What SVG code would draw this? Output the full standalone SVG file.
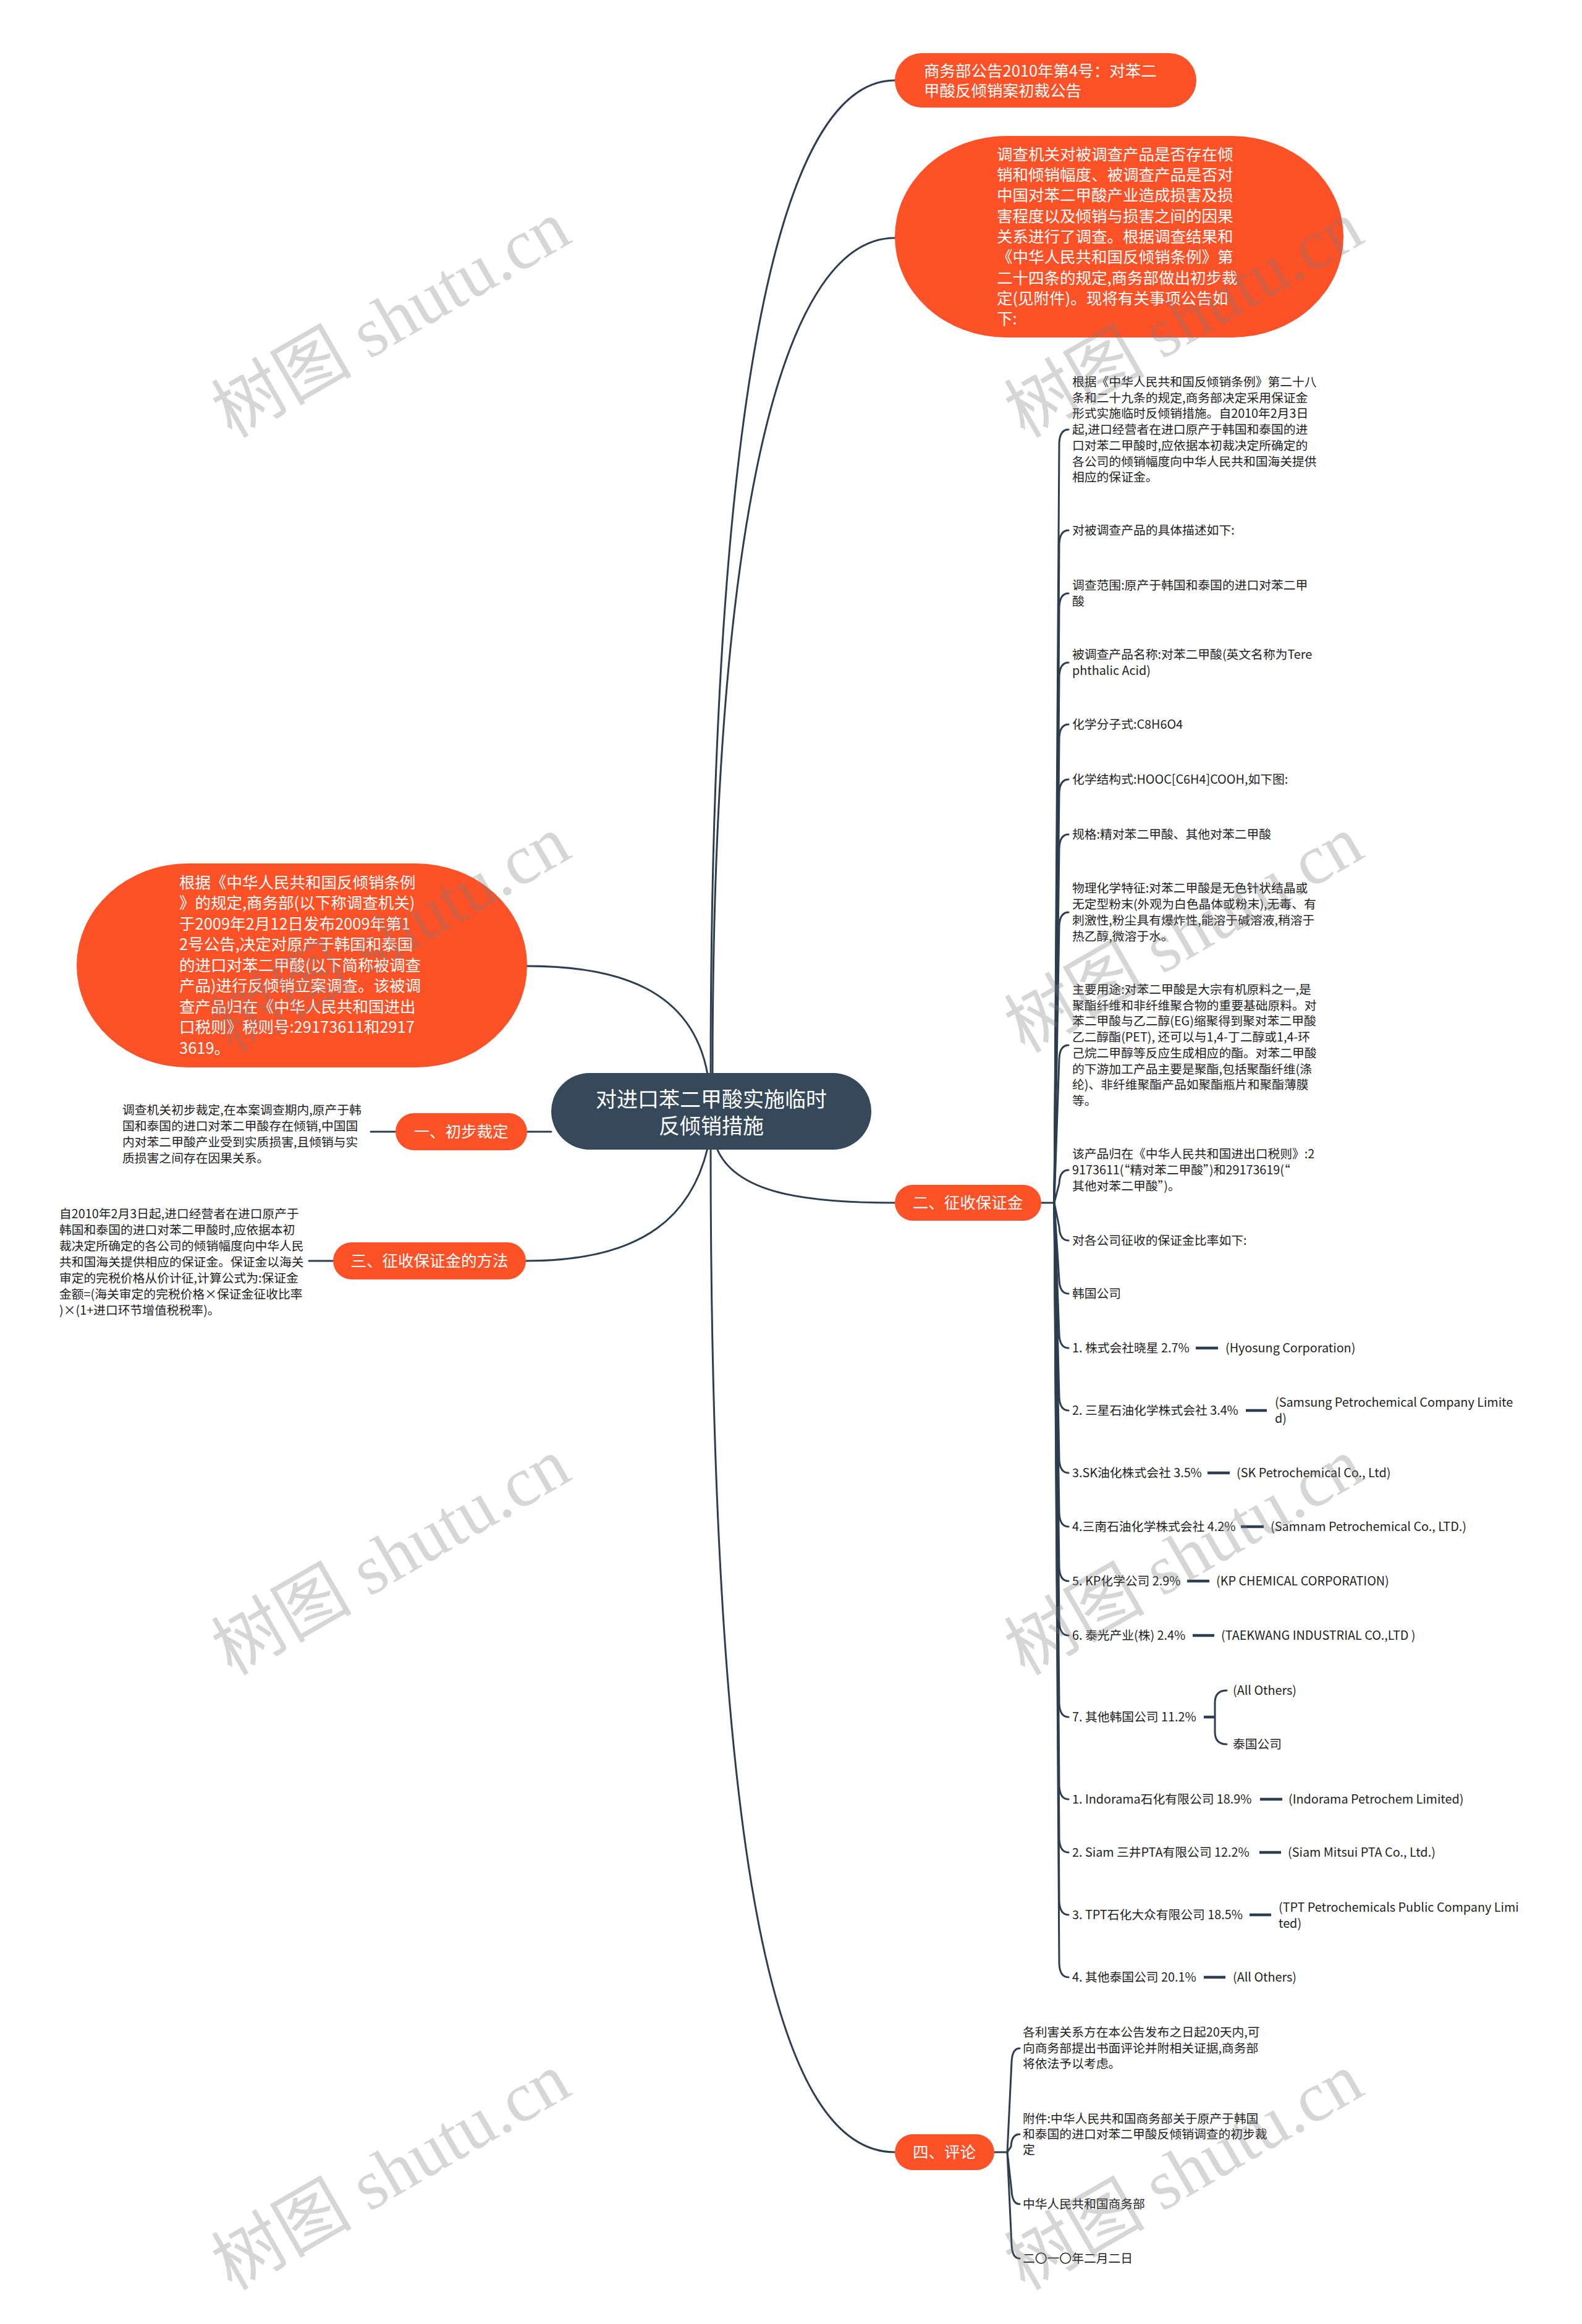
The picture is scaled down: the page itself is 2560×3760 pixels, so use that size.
<svg xmlns="http://www.w3.org/2000/svg" width="2560" height="3760" viewBox="0 0 2560 3760">
<style>
.bg{fill:#ffffff}
.conn{fill:none;stroke:#2c3e4f;stroke-width:3;stroke-linecap:round}
.dash{fill:none;stroke:#2c3e4f;stroke-width:4.5}
.org{fill:#fd5127}
.dark{fill:#36495a}
text{font-family:"Noto Sans CJK SC","Noto Sans",sans-serif}
.ot{fill:#ffffff;font-size:25.5px}
.ct{fill:#ffffff;font-size:34px}
.lt{fill:#1e1e1e;font-size:19.8px}
.wm{font-family:"Liberation Serif","Noto Sans CJK SC",serif;font-size:114px;fill:#7a7a7a;opacity:0.3}
</style>
<rect class="bg" x="0" y="0" width="2560" height="3760"/>

<g id="connectors">
  <path class="conn" d="M1150,1738 C1150,700 1250,130 1448,130"/>
  <path class="conn" d="M1153,1738 C1153,860 1260,385 1448,385"/>
  <path class="conn" d="M853,1563 C1000,1563 1120,1600 1145,1738"/>
  <path class="conn" d="M853,1831 H892"/>
  <path class="conn" d="M1145,1858 C1120,1960 1050,2040 851,2040"/>
  <path class="conn" d="M1160,1858 C1190,1930 1300,1946 1448,1946"/>
  <path class="conn" d="M1150,1858 C1150,3050 1260,3482 1448,3482"/>
  <path class="conn" d="M600,1831 H640"/>
  <path class="conn" d="M500,2040 H539"/>
  <path class="conn" d="M1685,1946 H1706"/>
  <path class="conn" d="M1706,1946 L1714,717 Q1715,695 1729,695"/>
  <path class="conn" d="M1706,1946 L1714,880 Q1715,858 1729,858"/>
  <path class="conn" d="M1706,1946 L1714,982 Q1715,960 1729,960"/>
  <path class="conn" d="M1706,1946 L1714,1094 Q1715,1072 1729,1072"/>
  <path class="conn" d="M1706,1946 L1714,1194 Q1715,1172 1729,1172"/>
  <path class="conn" d="M1706,1946 L1714,1283 Q1715,1261 1729,1261"/>
  <path class="conn" d="M1706,1946 L1714,1372 Q1715,1350 1729,1350"/>
  <path class="conn" d="M1706,1946 L1714,1498 Q1715,1476 1729,1476"/>
  <path class="conn" d="M1706,1946 L1714,1713 Q1715,1691 1729,1691"/>
  <path class="conn" d="M1706,1946 L1714,1915 Q1715,1893 1729,1893"/>
  <path class="conn" d="M1706,1946 L1714,1985 Q1715,2007 1729,2007"/>
  <path class="conn" d="M1706,1946 L1714,2071 Q1715,2093 1729,2093"/>
  <path class="conn" d="M1706,1946 L1714,2159 Q1715,2181 1729,2181"/>
  <path class="conn" d="M1706,1946 L1714,2260 Q1715,2282 1729,2282"/>
  <path class="conn" d="M1706,1946 L1714,2361 Q1715,2383 1729,2383"/>
  <path class="conn" d="M1706,1946 L1714,2448 Q1715,2470 1729,2470"/>
  <path class="conn" d="M1706,1946 L1714,2536 Q1715,2558 1729,2558"/>
  <path class="conn" d="M1706,1946 L1714,2624 Q1715,2646 1729,2646"/>
  <path class="conn" d="M1706,1946 L1714,2756 Q1715,2778 1729,2778"/>
  <path class="conn" d="M1706,1946 L1714,2889 Q1715,2911 1729,2911"/>
  <path class="conn" d="M1706,1946 L1714,2975 Q1715,2997 1729,2997"/>
  <path class="conn" d="M1706,1946 L1714,3076 Q1715,3098 1729,3098"/>
  <path class="conn" d="M1706,1946 L1714,3177 Q1715,3199 1729,3199"/>
  <path class="dash" d="M1935,2181 H1971"/>
  <path class="dash" d="M2016,2282 H2050"/>
  <path class="dash" d="M1954,2383 H1990"/>
  <path class="dash" d="M2008,2470 H2045"/>
  <path class="dash" d="M1921,2558 H1957"/>
  <path class="dash" d="M1930,2646 H1965"/>
  <path class="dash" d="M2039,2911 H2075"/>
  <path class="dash" d="M2038,2997 H2073"/>
  <path class="dash" d="M2022,3098 H2057"/>
  <path class="dash" d="M1948,3199 H1983"/>
  <path class="dash" d="M1948,2778 H1966"/>
  <path class="conn" d="M1985,2735 Q1966,2735 1966,2755 V2802 Q1966,2822 1985,2822"/>
  <path class="conn" d="M1609,3482 H1630"/>
  <path class="conn" d="M1630,3482 L1637,3336 Q1638,3314 1650,3314"/>
  <path class="conn" d="M1630,3482 L1636,3473 Q1637,3453 1650,3453"/>
  <path class="conn" d="M1630,3482 L1637,3544 Q1638,3566 1650,3566"/>
  <path class="conn" d="M1630,3482 L1637,3632 Q1638,3654 1650,3654"/>
</g>

<g id="center">
  <rect class="dark" x="892" y="1736" width="518" height="124" rx="62"/>
  <text class="ct" text-anchor="middle"><tspan x="1151" y="1791">对进口苯二甲酸实施临时</tspan><tspan x="1151" y="1834">反倾销措施</tspan></text>
</g>

<g id="n-top1">
  <rect class="org" x="1448" y="86" width="488" height="88" rx="44"/>
  <text class="ot"><tspan x="1495" y="124">商务部公告2010年第4号：对苯二</tspan><tspan x="1495" y="156">甲酸反倾销案初裁公告</tspan></text>
</g>

<g id="n-top2">
  <rect class="org" x="1448" y="220" width="726" height="326" rx="180" ry="163"/>
  <text class="ot">
    <tspan x="1613" y="259">调查机关对被调查产品是否存在倾</tspan>
    <tspan x="1613" y="292">销和倾销幅度、被调查产品是否对</tspan>
    <tspan x="1613" y="325">中国对苯二甲酸产业造成损害及损</tspan>
    <tspan x="1613" y="359">害程度以及倾销与损害之间的因果</tspan>
    <tspan x="1613" y="392">关系进行了调查。根据调查结果和</tspan>
    <tspan x="1613" y="425">《中华人民共和国反倾销条例》第</tspan>
    <tspan x="1613" y="459">二十四条的规定,商务部做出初步裁</tspan>
    <tspan x="1613" y="492">定(见附件)。现将有关事项公告如</tspan>
    <tspan x="1613" y="525">下:</tspan>
  </text>
</g>

<g id="n-left-big">
  <rect class="org" x="124" y="1397" width="729" height="330" rx="180" ry="165"/>
  <text class="ot">
    <tspan x="290" y="1437">根据《中华人民共和国反倾销条例</tspan>
    <tspan x="290" y="1470">》的规定,商务部(以下称调查机关)</tspan>
    <tspan x="290" y="1504">于2009年2月12日发布2009年第1</tspan>
    <tspan x="290" y="1537">2号公告,决定对原产于韩国和泰国</tspan>
    <tspan x="290" y="1571">的进口对苯二甲酸(以下简称被调查</tspan>
    <tspan x="290" y="1604">产品)进行反倾销立案调查。该被调</tspan>
    <tspan x="290" y="1638">查产品归在《中华人民共和国进出</tspan>
    <tspan x="290" y="1671">口税则》税则号:29173611和2917</tspan>
    <tspan x="290" y="1705">3619。</tspan>
  </text>
</g>

<g id="n-one">
  <rect class="org" x="640" y="1801" width="213" height="60" rx="30"/>
  <text class="ot" x="746" y="1840" text-anchor="middle">一、初步裁定</text>
</g>
<g id="n-one-leaf">
  <text class="lt">
    <tspan x="198" y="1803">调查机关初步裁定,在本案调查期内,原产于韩</tspan>
    <tspan x="198" y="1829">国和泰国的进口对苯二甲酸存在倾销,中国国</tspan>
    <tspan x="198" y="1855">内对苯二甲酸产业受到实质损害,且倾销与实</tspan>
    <tspan x="198" y="1881">质损害之间存在因果关系。</tspan>
  </text>
</g>

<g id="n-three">
  <rect class="org" x="539" y="2010" width="312" height="60" rx="30"/>
  <text class="ot" x="695" y="2049" text-anchor="middle">三、征收保证金的方法</text>
</g>
<g id="n-three-leaf">
  <text class="lt">
    <tspan x="96" y="1971">自2010年2月3日起,进口经营者在进口原产于</tspan>
    <tspan x="96" y="1997">韩国和泰国的进口对苯二甲酸时,应依据本初</tspan>
    <tspan x="96" y="2023">裁决定所确定的各公司的倾销幅度向中华人民</tspan>
    <tspan x="96" y="2049">共和国海关提供相应的保证金。保证金以海关</tspan>
    <tspan x="96" y="2075">审定的完税价格从价计征,计算公式为:保证金</tspan>
    <tspan x="96" y="2101">金额=(海关审定的完税价格×保证金征收比率</tspan>
    <tspan x="96" y="2127">)×(1+进口环节增值税税率)。</tspan>
  </text>
</g>

<g id="n-two">
  <rect class="org" x="1448" y="1917" width="237" height="58" rx="29"/>
  <text class="ot" x="1566" y="1955" text-anchor="middle">二、征收保证金</text>
</g>

<g id="n-two-children">
  <text class="lt">
    <tspan x="1735" y="625">根据《中华人民共和国反倾销条例》第二十八</tspan>
    <tspan x="1735" y="651">条和二十九条的规定,商务部决定采用保证金</tspan>
    <tspan x="1735" y="676">形式实施临时反倾销措施。自2010年2月3日</tspan>
    <tspan x="1735" y="702">起,进口经营者在进口原产于韩国和泰国的进</tspan>
    <tspan x="1735" y="728">口对苯二甲酸时,应依据本初裁决定所确定的</tspan>
    <tspan x="1735" y="754">各公司的倾销幅度向中华人民共和国海关提供</tspan>
    <tspan x="1735" y="779">相应的保证金。</tspan>
  </text>
  <text class="lt" x="1735" y="865">对被调查产品的具体描述如下:</text>
  <text class="lt"><tspan x="1735" y="954">调查范围:原产于韩国和泰国的进口对苯二甲</tspan><tspan x="1735" y="980">酸</tspan></text>
  <text class="lt"><tspan x="1735" y="1066">被调查产品名称:对苯二甲酸(英文名称为Tere</tspan><tspan x="1735" y="1092">phthalic Acid)</tspan></text>
  <text class="lt" x="1735" y="1179">化学分子式:C8H6O4</text>
  <text class="lt" x="1735" y="1268">化学结构式:HOOC[C6H4]COOH,如下图:</text>
  <text class="lt" x="1735" y="1357">规格:精对苯二甲酸、其他对苯二甲酸</text>
  <text class="lt">
    <tspan x="1735" y="1444">物理化学特征:对苯二甲酸是无色针状结晶或</tspan>
    <tspan x="1735" y="1470">无定型粉末(外观为白色晶体或粉末),无毒、有</tspan>
    <tspan x="1735" y="1496">刺激性,粉尘具有爆炸性,能溶于碱溶液,稍溶于</tspan>
    <tspan x="1735" y="1522">热乙醇,微溶于水。</tspan>
  </text>
  <text class="lt">
    <tspan x="1735" y="1608">主要用途:对苯二甲酸是大宗有机原料之一,是</tspan>
    <tspan x="1735" y="1634">聚酯纤维和非纤维聚合物的重要基础原料。对</tspan>
    <tspan x="1735" y="1659">苯二甲酸与乙二醇(EG)缩聚得到聚对苯二甲酸</tspan>
    <tspan x="1735" y="1685">乙二醇酯(PET), 还可以与1,4-丁二醇或1,4-环</tspan>
    <tspan x="1735" y="1711">己烷二甲醇等反应生成相应的酯。对苯二甲酸</tspan>
    <tspan x="1735" y="1737">的下游加工产品主要是聚酯,包括聚酯纤维(涤</tspan>
    <tspan x="1735" y="1762">纶)、非纤维聚酯产品如聚酯瓶片和聚酯薄膜</tspan>
    <tspan x="1735" y="1788">等。</tspan>
  </text>
  <text class="lt">
    <tspan x="1735" y="1874">该产品归在《中华人民共和国进出口税则》:2</tspan>
    <tspan x="1735" y="1900">9173611(“精对苯二甲酸”)和29173619(“</tspan>
    <tspan x="1735" y="1926">其他对苯二甲酸”)。</tspan>
  </text>
  <text class="lt" x="1735" y="2014">对各公司征收的保证金比率如下:</text>
  <text class="lt" x="1735" y="2100">韩国公司</text>
  <text class="lt" x="1735" y="2188">1. 株式会社晓星 2.7%</text>
  <text class="lt" x="1983" y="2188">(Hyosung Corporation)</text>
  <text class="lt" x="1735" y="2289">2. 三星石油化学株式会社 3.4%</text>
  <text class="lt"><tspan x="2063" y="2276">(Samsung Petrochemical Company Limite</tspan><tspan x="2063" y="2302">d)</tspan></text>
  <text class="lt" x="1735" y="2390">3.SK油化株式会社 3.5%</text>
  <text class="lt" x="2001" y="2390">(SK Petrochemical Co., Ltd)</text>
  <text class="lt" x="1735" y="2477">4.三南石油化学株式会社 4.2%</text>
  <text class="lt" x="2056" y="2477">(Samnam Petrochemical Co., LTD.)</text>
  <text class="lt" x="1735" y="2565">5. KP化学公司 2.9%</text>
  <text class="lt" x="1968" y="2565">(KP CHEMICAL CORPORATION)</text>
  <text class="lt" x="1735" y="2653">6. 泰光产业(株) 2.4%</text>
  <text class="lt" x="1976" y="2653">(TAEKWANG INDUSTRIAL CO.,LTD )</text>
  <text class="lt" x="1735" y="2785">7. 其他韩国公司 11.2%</text>
  <text class="lt" x="1995" y="2742">(All Others)</text>
  <text class="lt" x="1995" y="2829">泰国公司</text>
  <text class="lt" x="1735" y="2918">1. Indorama石化有限公司 18.9%</text>
  <text class="lt" x="2085" y="2918">(Indorama Petrochem Limited)</text>
  <text class="lt" x="1735" y="3004">2. Siam 三井PTA有限公司 12.2%</text>
  <text class="lt" x="2084" y="3004">(Siam Mitsui PTA Co., Ltd.)</text>
  <text class="lt" x="1735" y="3105">3. TPT石化大众有限公司 18.5%</text>
  <text class="lt"><tspan x="2069" y="3093">(TPT Petrochemicals Public Company Limi</tspan><tspan x="2069" y="3119">ted)</tspan></text>
  <text class="lt" x="1735" y="3206">4. 其他泰国公司 20.1%</text>
  <text class="lt" x="1995" y="3206">(All Others)</text>
</g>

<g id="n-four">
  <rect class="org" x="1448" y="3453" width="161" height="58" rx="29"/>
  <text class="ot" x="1528" y="3491" text-anchor="middle">四、评论</text>
</g>
<g id="n-four-children">
  <text class="lt">
    <tspan x="1655" y="3295">各利害关系方在本公告发布之日起20天内,可</tspan>
    <tspan x="1655" y="3321">向商务部提出书面评论并附相关证据,商务部</tspan>
    <tspan x="1655" y="3346">将依法予以考虑。</tspan>
  </text>
  <text class="lt">
    <tspan x="1655" y="3435">附件:中华人民共和国商务部关于原产于韩国</tspan>
    <tspan x="1655" y="3460">和泰国的进口对苯二甲酸反倾销调查的初步裁</tspan>
    <tspan x="1655" y="3485">定</tspan>
  </text>
  <text class="lt" x="1655" y="3573">中华人民共和国商务部</text>
  <text class="lt" x="1655" y="3661">二〇一〇年二月二日</text>
</g>

<g id="watermarks">
  <text class="wm" text-anchor="middle" transform="translate(652,550) rotate(-30)">树图 shutu.cn</text>
  <text class="wm" text-anchor="middle" transform="translate(1935,550) rotate(-30)">树图 shutu.cn</text>
  <text class="wm" text-anchor="middle" transform="translate(652,1545) rotate(-30)">树图 shutu.cn</text>
  <text class="wm" text-anchor="middle" transform="translate(1935,1545) rotate(-30)">树图 shutu.cn</text>
  <text class="wm" text-anchor="middle" transform="translate(652,2552) rotate(-30)">树图 shutu.cn</text>
  <text class="wm" text-anchor="middle" transform="translate(1935,2552) rotate(-30)">树图 shutu.cn</text>
  <text class="wm" text-anchor="middle" transform="translate(652,3547) rotate(-30)">树图 shutu.cn</text>
  <text class="wm" text-anchor="middle" transform="translate(1935,3547) rotate(-30)">树图 shutu.cn</text>
</g>
</svg>
